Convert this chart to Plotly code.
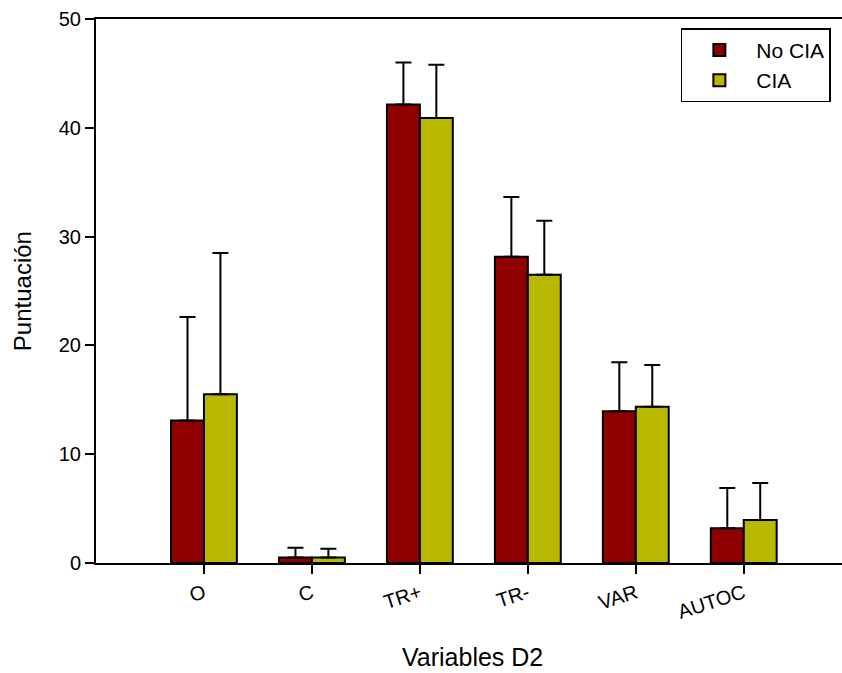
import plotly.graph_objects as go

categories = ["O", "C", "TR+", "TR-", "VAR", "AUTOC"]
no_cia = [13.1, 0.5, 42.15, 28.15, 13.95, 3.2]
no_cia_err = [9.5, 0.9, 3.85, 5.5, 4.5, 3.7]
cia = [15.5, 0.5, 40.9, 26.5, 14.35, 3.95]
cia_err = [13.0, 0.8, 4.9, 4.95, 3.85, 3.4]
y_ticks = [0, 10, 20, 30, 40, 50]

FONT = "Liberation Sans, Arial, sans-serif"
xpos = list(range(len(categories)))

fig = go.Figure()
for name, vals, errs, col in [("No CIA", no_cia, no_cia_err, "#900000"),
                              ("CIA", cia, cia_err, "#B9B800")]:
    fig.add_trace(go.Bar(
        x=xpos, y=vals, name=name,
        marker=dict(color=col, line=dict(color="black", width=2)),
        error_y=dict(type="data", array=errs, arrayminus=[0] * len(errs),
                     symmetric=False, color="black", thickness=2, width=8),
    ))

fig.update_layout(
    width=842, height=673,
    margin=dict(l=96, r=0, t=19, b=110),
    paper_bgcolor="white", plot_bgcolor="white",
    barmode="group", bargap=0.39, bargroupgap=0,
    font=dict(family=FONT, color="black", size=20),
    showlegend=True,
    legend=dict(x=0.784, y=0.983, xanchor="left", yanchor="top",
                bgcolor="white", bordercolor="black", borderwidth=1.5,
                font=dict(size=21), tracegroupgap=0, itemwidth=64),
    xaxis=dict(range=[-1, 5.91], tickvals=xpos, ticktext=categories,
               tickangle=-18, ticks="outside", ticklen=9, tickwidth=2,
               tickcolor="black", showline=True, linecolor="black",
               linewidth=2, mirror=True, showgrid=False, zeroline=False,
               tickfont=dict(size=20)),
    yaxis=dict(range=[0, 50], tickvals=y_ticks, ticks="outside", ticklen=9,
               tickwidth=2, tickcolor="black", showline=True,
               linecolor="black", linewidth=2, showgrid=False,
               zeroline=False, tickfont=dict(size=20)),
    annotations=[
        dict(text="Variables D2", xref="paper", yref="paper", x=0.505,
             y=-0.173, showarrow=False, font=dict(size=25),
             xanchor="center", yanchor="middle"),
        dict(text="Puntuación", xref="paper", yref="paper", x=-0.099,
             y=0.5, showarrow=False, font=dict(size=24), textangle=-90,
             xanchor="center", yanchor="middle"),
    ],
)

fig.write_html("out.html")
